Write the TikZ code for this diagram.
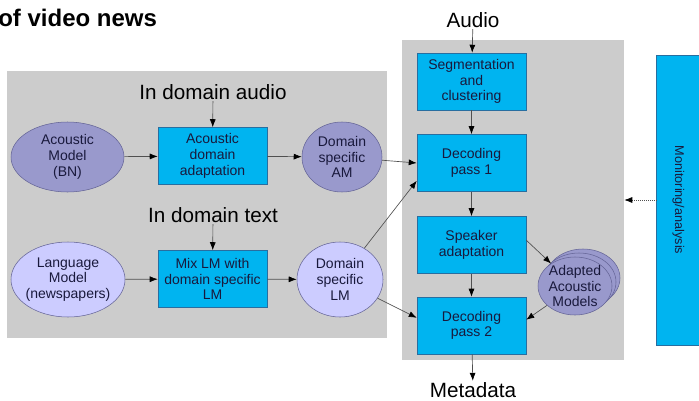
\documentclass[tikz,border=0pt]{standalone}
\usepackage{fontspec}
\setmainfont{Liberation Sans}
\usetikzlibrary{shapes.geometric,arrows.meta}

\definecolor{panelgray}{RGB}{204,204,204}
\definecolor{boxcyan}{RGB}{0,180,240}
\definecolor{boxedge}{RGB}{40,110,160}
\definecolor{lavdark}{RGB}{153,153,204}
\definecolor{lavlight}{RGB}{204,204,255}
\definecolor{lavedge}{RGB}{100,100,150}
\definecolor{inkblue}{RGB}{25,25,60}
\definecolor{flowgray}{RGB}{80,80,80}

\begin{document}
\begin{tikzpicture}[x=0.75pt,y=0.75pt,yscale=-1,xscale=1,
    panel/.style={rectangle, fill=panelgray, draw=none, inner sep=0pt},
    procbox/.style={rectangle, draw=boxedge, fill=boxcyan, text=inkblue, align=center, inner sep=1pt, minimum width=81.75pt, minimum height=42.75pt, font=\fontsize{10.5}{11.8}\selectfont},
    darkmodel/.style={ellipse, draw=lavedge, fill=lavdark, text=inkblue, align=center, inner sep=0pt, inner xsep=-3pt, font=\fontsize{10.5}{11.8}\selectfont},
    lightmodel/.style={darkmodel, fill=lavlight},
    biglabel/.style={inner sep=1pt, font=\fontsize{15.5}{18}\selectfont},
    flow/.style={draw=flowgray, line width=0.5pt, -{Latex[length=6pt,width=4.5pt,color=black]}}
  ]
        \useasboundingbox (0,0) rectangle (699,400);

        % Title
        \node [anchor=west, inner sep=0pt, font=\fontsize{18}{21}\selectfont\bfseries] (title) at (-2,18) {of video news};

        % Panels
        \node [panel, minimum width=285pt, minimum height=200.25pt] (lpanel) at (197,204.5) {};
        \node [panel, minimum width=166.5pt, minimum height=240pt] (rpanel) at (513,200) {};

        % Acoustic model row
        \node [biglabel] (inaudio) at (213,92) {In domain audio};
        \node [darkmodel, minimum width=84.75pt, minimum height=52.5pt] (acm) at (67.5,157) {Acoustic\\Model\\(BN)};
        \node [procbox] (acad) at (212.5,156) {Acoustic\\domain\\adaptation};
        \node [darkmodel, minimum width=60pt, minimum height=52.5pt] (dsam) at (342,157) {Domain\\specific\\AM};

        % Language model row
        \node [biglabel] (intext) at (213,215) {In domain text};
        \node [lightmodel, minimum width=85.5pt, minimum height=56.25pt] (lm) at (68,279.5) {Language\\Model\\(newspapers)};
        \node [procbox] (mixlm) at (212.5,279) {Mix LM with\\domain specific\\LM};
        \node [lightmodel, minimum width=64.5pt, minimum height=56.25pt] (dslm) at (340,279.5) {Domain\\specific\\LM};

        % Decoding chain
        \node [biglabel] (audio) at (473,20) {Audio};
        \node [procbox] (seg) at (471.5,81.5) {Segmentation\\and\\clustering};
        \node [procbox] (dec1) at (471.5,163) {Decoding\\pass 1};
        \node [procbox] (spk) at (471.5,245) {Speaker\\adaptation};
        \node [procbox] (dec2) at (471.5,325.5) {Decoding\\pass 2};
        \node [biglabel] (meta) at (473,390) {Metadata};

        % Adapted models (stack)
        \draw [draw=lavedge, fill=lavdark] (583,278) ellipse (27.75pt and 21.75pt);
        \draw [draw=lavedge, fill=lavdark] (579,282) ellipse (27.75pt and 21.75pt);
        \node [darkmodel, minimum width=55.5pt, minimum height=43.5pt, inner ysep=-3pt] (adm) at (575,286) {Adapted\\Acoustic\\Models};

        % Monitoring
        \node [procbox, rotate=-90, minimum width=217.5pt, minimum height=33pt, font=\fontsize{9.5}{11}\selectfont] (monitor) at (678.5,200) {Monitoring/analysis};

        % Connectors
        \draw [flow] (inaudio) -- (acad);
        \draw [flow] (acm) -- (acad);
        \draw [flow] (acad) -- (dsam);
        \draw [flow] (intext) -- (mixlm);
        \draw [flow] (lm) -- (mixlm);
        \draw [flow] (mixlm) -- (dslm);
        \draw [flow] (audio) -- (seg);
        \draw [flow] (seg) -- (dec1);
        \draw [flow] (dec1) -- (spk);
        \draw [flow] (spk) -- (dec2);
        \draw [flow] (dec2) -- (meta);
        \draw [flow] (dsam) -- (dec1.west);
        \draw [flow] (dslm) -- (dec1.198);
        \draw [flow] (dslm) -- (dec2.172);
        \draw [flow] (spk.5) -- (adm);
        \draw [flow] (adm) -- (dec2.6);
        \draw [flow, densely dotted] (monitor) -- (rpanel.east);

\end{tikzpicture}
\end{document}
